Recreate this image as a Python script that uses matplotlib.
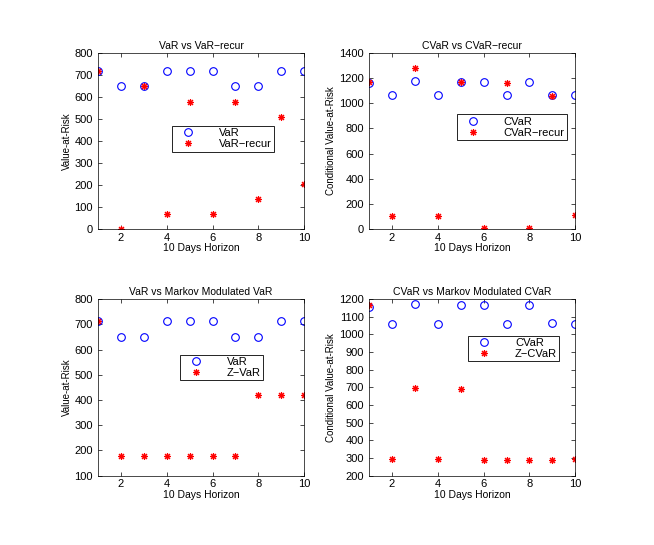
import matplotlib
matplotlib.use("Agg")
import matplotlib.pyplot as plt

plt.rcParams['font.family'] = ['Liberation Sans', 'DejaVu Sans']

days = [1, 2, 3, 4, 5, 6, 7, 8, 9, 10]

var = [715, 648, 648, 715, 715, 715, 648, 648, 715, 715]
var_recur = [715, 0, 648, 69, 578, 69, 578, 137, 510, 204]
z_var = [715, 178, 178, 178, 178, 178, 178, 421, 421, 421]

cvar_top = [1160, 1064, 1173, 1062, 1170, 1170, 1064, 1165, 1064, 1064]
cvar_recur = [1170, 106, 1281, 106, 1165, 8, 1157, 8, 1057, 114]
cvar_bot = [1155, 1061, 1174, 1057, 1168, 1168, 1061, 1167, 1064, 1061]
z_cvar = [1168, 294, 694, 294, 692, 290, 290, 290, 290, 294]

fig = plt.figure(figsize=(6.54, 5.45), dpi=100)
fig.patch.set_facecolor("white")

W, H = 0.316, 0.324
panels = [
    # rect, title, ylabel, series1, series2, labels, ylim, yticks, legend anchor
    ([0.1494, 0.5793, W, H], "VaR vs VaR\u2212recur", "Value-at-Risk",
     var, var_recur, ["VaR", "VaR\u2212recur"], (0, 800), range(0, 801, 100), (0.36, 0.585)),
    ([0.5638, 0.5793, W, H], "CVaR vs CVaR\u2212recur", "Conditional Value-at-Risk",
     cvar_top, cvar_recur, ["CVaR", "CVaR\u2212recur"], (0, 1400), range(0, 1401, 200), (0.426, 0.651)),
    ([0.1494, 0.1272, W, H], "VaR vs Markov Modulated VaR", "Value-at-Risk",
     var, z_var, ["VaR", "Z\u2212VaR"], (100, 800), range(100, 801, 100), (0.398, 0.685)),
    ([0.5638, 0.1272, W, H], "CVaR vs Markov Modulated CVaR", "Conditional Value-at-Risk",
     cvar_bot, z_cvar, ["CVaR", "Z\u2212CVaR"], (200, 1200), range(200, 1201, 100), (0.482, 0.792)),
]

for rect, title, ylabel, s1, s2, labels, ylim, yticks, anchor in panels:
    ax = fig.add_axes(rect)
    ax.plot(days, s1, "o", color="blue", markerfacecolor="none",
            markersize=5.5, markeredgewidth=0.8, label=labels[0])
    ax.plot(days, s2, linestyle="none", marker=(8, 2, 0), color="red",
            markersize=5, markeredgewidth=0.8, label=labels[1])
    ax.set_xlim(1, 10)
    ax.set_ylim(*ylim)
    ax.set_xticks([2, 4, 6, 8, 10])
    ax.set_yticks(list(yticks))
    ax.tick_params(direction="in", labelsize=8, length=3, width=0.5,
                   top=True, right=True)
    ax.tick_params(axis="x", pad=2.5)
    for sp in ax.spines.values():
        sp.set_linewidth(0.5)
    ax.set_title(title, fontsize=7.5, pad=3)
    ax.set_xlabel("10 Days Horizon", fontsize=7.5, labelpad=0.5)
    ax.set_ylabel(ylabel, fontsize=7, labelpad=2)
    leg = ax.legend(loc="upper left", bbox_to_anchor=anchor, fontsize=8,
                    fancybox=False, framealpha=1, edgecolor="black",
                    borderpad=0.2, handletextpad=1.5, labelspacing=0.1,
                    borderaxespad=0, handlelength=2.5)
    leg.get_frame().set_linewidth(0.6)

fig.savefig("out.png", dpi=100, facecolor="white")
